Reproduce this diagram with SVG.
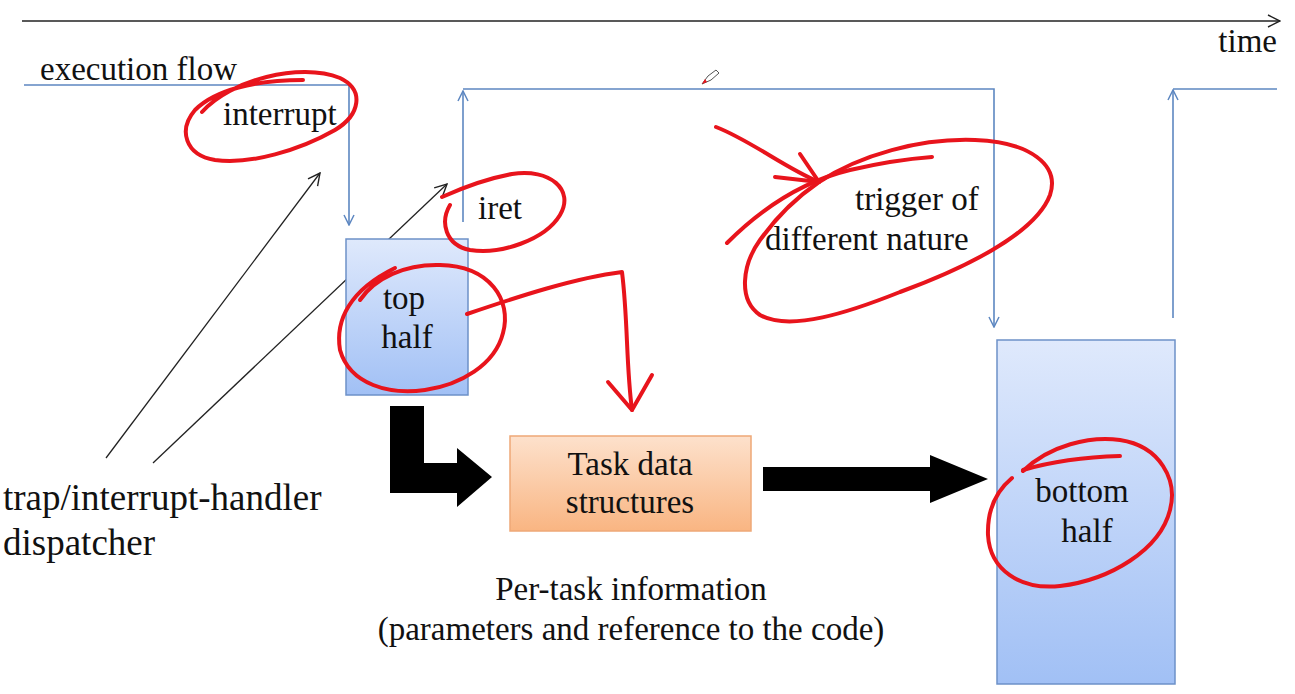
<svg xmlns="http://www.w3.org/2000/svg" width="1295" height="694" viewBox="0 0 1295 694">
<style>
text{font-family:"Liberation Serif","Times New Roman",serif;font-size:33px;fill:#111}
.big{font-size:37px}
.mid{text-anchor:middle}
.flow{stroke:#5d87c1;stroke-width:1.6;fill:none}
.thin{stroke:#222;stroke-width:1.3;fill:none}
.ink{stroke:#e8141c;stroke-width:4;fill:none;stroke-linecap:round;stroke-linejoin:round}
.node{stroke:#6d91c8;stroke-width:1.5}
</style>
<defs>
<linearGradient id="blueG" x1="0" y1="0" x2="0" y2="1">
<stop offset="0" stop-color="#dfe9fc"/>
<stop offset="1" stop-color="#a1c0f5"/>
</linearGradient>
<linearGradient id="orangeG" x1="0" y1="0" x2="0" y2="1">
<stop offset="0" stop-color="#fde1cc"/>
<stop offset="1" stop-color="#f9b582"/>
</linearGradient>
<marker id="openBlue" viewBox="0 0 12 12" refX="11" refY="6" markerWidth="12" markerHeight="12" markerUnits="userSpaceOnUse" orient="auto">
<path d="M1,1 L11,6 L1,11" fill="none" stroke="#5d87c1" stroke-width="1.5"/>
</marker>
<marker id="openBlack" viewBox="0 0 14 14" refX="13" refY="7" markerWidth="14" markerHeight="14" markerUnits="userSpaceOnUse" orient="auto">
<path d="M1,1 L13,7 L1,13" fill="none" stroke="#222" stroke-width="1.4"/>
</marker>
</defs>
<rect width="1295" height="694" fill="#fff"/>

<g id="connectors">
<line class="thin" x1="22" y1="21" x2="1280" y2="21" marker-end="url(#openBlack)"/>
<polyline class="flow" points="24,85 349,85 349,225" marker-end="url(#openBlue)"/>
<line class="flow" x1="463" y1="222" x2="463" y2="91" marker-end="url(#openBlue)"/>
<polyline class="flow" points="463,89 994,89 994,327" marker-end="url(#openBlue)"/>
<line class="flow" x1="1173" y1="318" x2="1173" y2="90" marker-end="url(#openBlue)"/>
<line class="flow" x1="1173" y1="89" x2="1277" y2="89"/>
<line class="thin" x1="106" y1="458" x2="320" y2="173" marker-end="url(#openBlack)"/>
<line class="thin" x1="153" y1="463" x2="447" y2="184" marker-end="url(#openBlack)"/>
<polygon points="390,406 424,406 424,463 457,463 457,448 492,477 457,507 457,493 390,493" fill="#000"/>
<polygon points="763,467 930,467 930,455 988,479 930,503 930,491 763,491" fill="#000"/>
</g>

<g id="top-half">
<rect class="node" x="346" y="239" width="122" height="156" fill="url(#blueG)"/>
<text class="mid" x="404" y="309">top</text>
<text class="mid" x="407" y="348">half</text>
</g>

<g id="task-data">
<rect x="510" y="436" width="241" height="95" fill="url(#orangeG)" stroke="#eea877" stroke-width="1.5"/>
<text class="mid" x="630" y="475">Task data</text>
<text class="mid" x="630" y="513">structures</text>
</g>

<g id="bottom-half">
<rect class="node" x="997" y="340" width="178" height="344" fill="url(#blueG)"/>
<text class="mid" x="1082" y="502">bottom</text>
<text class="mid" x="1087" y="542">half</text>
</g>

<g id="labels">
<text x="1277" y="52" text-anchor="end">time</text>
<text x="40" y="80">execution flow</text>
<text x="223" y="125">interrupt</text>
<text x="478" y="219">iret</text>
<text x="855" y="210">trigger of</text>
<text x="765" y="250">different nature</text>
<text class="big" x="3" y="510">trap/interrupt-handler</text>
<text class="big" x="3" y="555">dispatcher</text>
<text class="mid" x="631" y="600">Per-task information</text>
<text class="mid" x="631" y="640">(parameters and reference to the code)</text>
</g>

<g id="annotations">
<path class="ink" d="M202,112 C230,80 300,62 340,78 C365,90 360,115 335,130 C300,150 250,165 215,160 C185,155 178,130 195,110 C215,90 255,80 303,80"/>
<path class="ink" d="M442,197 C462,188 490,178 512,174 C550,168 575,190 560,215 C545,240 500,255 470,250 C445,245 440,222 450,205"/>
<path class="ink" d="M360,300 C375,278 405,264 440,265 C490,266 512,300 503,333 C495,365 460,385 425,390 C390,395 350,385 340,350 C335,320 350,290 395,268"/>
<path class="ink" d="M467,314 C520,296 575,278 622,272 C628,320 626,365 632,410"/>
<path class="ink" d="M608,382 L632,410 L652,375"/>
<path class="ink" d="M716,127 C750,140 785,168 819,182"/>
<path class="ink" d="M800,154 L819,182 L775,177"/>
<path class="ink" d="M727,243 C760,210 800,182 850,170 C880,163 905,159 932,157"/>
<path class="ink" d="M819,182 C860,155 920,138 975,140 C1030,142 1060,165 1050,195 C1035,235 960,270 900,292 C850,312 790,332 760,315 C738,300 742,265 760,240 C780,212 800,195 819,182"/>
<path class="ink" d="M1023,470 C1050,462 1085,457 1120,456"/>
<path class="ink" d="M1023,471 C1050,445 1090,436 1120,440 C1160,446 1178,480 1170,510 C1160,550 1110,580 1060,586 C1020,590 990,570 988,535 C987,505 1000,488 1012,478"/>
<path d="M702,84 L708,76 L716,70 L719,73 L711,80 Z" fill="#fff" stroke="#555" stroke-width="1"/>
<path d="M702,84 L705,79 L707,82 Z" fill="#e8141c"/>
</g>
</svg>
